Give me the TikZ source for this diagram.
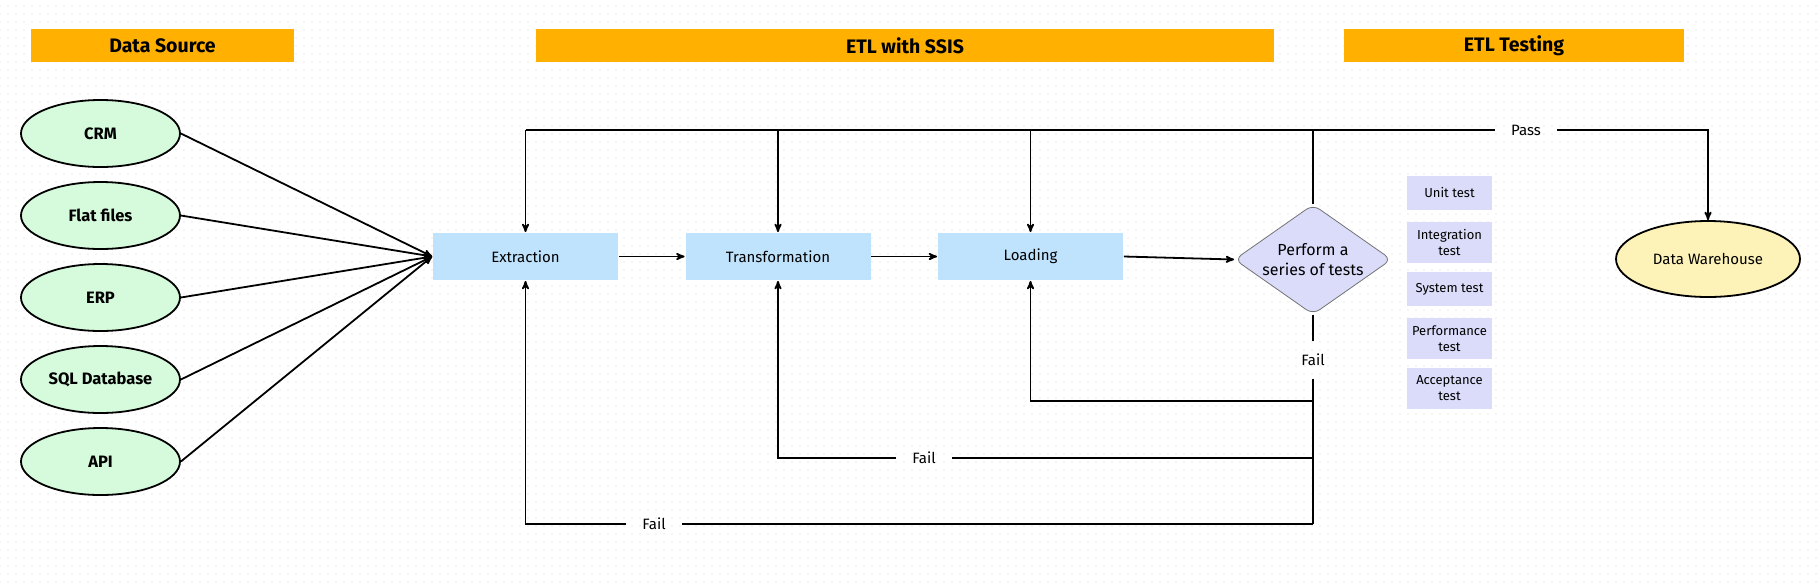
\documentclass[tikz,border=0pt]{standalone}
\usepackage{fontspec}
\setmainfont{Fira Sans}
\usetikzlibrary{arrows,shapes.geometric,patterns}

\definecolor{barorange}{RGB}{255,176,0}
\definecolor{srcgreen}{RGB}{214,250,220}
\definecolor{stageblue}{RGB}{191,227,252}
\definecolor{testlilac}{RGB}{218,220,250}
\definecolor{dwyellow}{RGB}{253,242,184}

% faint dotted canvas
\pgfdeclarepatternformonly{griddots}{\pgfqpoint{-1pt}{-1pt}}{\pgfqpoint{1pt}{1pt}}{\pgfqpoint{8pt}{8pt}}{%
  \pgfpathcircle{\pgfqpoint{0pt}{0pt}}{0.8pt}\pgfusepath{fill}}

\begin{document}
\begin{tikzpicture}[x=1pt,y=-1pt,>=stealth',line width=1.8pt,node distance=82pt,
  every node/.style={font=\fontsize{15}{18}\selectfont},
  header/.style={fill=barorange,minimum height=33pt,font=\fontsize{19.5}{22}\selectfont\bfseries},
  source/.style={ellipse,draw,fill=srcgreen,minimum width=159pt,minimum height=67pt,font=\fontsize{16.5}{19}\selectfont\bfseries},
  stage/.style={fill=stageblue,minimum width=185pt,minimum height=47pt},
  testbox/.style={fill=testlilac,minimum width=85pt,align=center,font=\fontsize{13}{15.5}\selectfont},
  lbl/.style={inner xsep=15pt,inner ysep=12pt,font=\fontsize{15}{18}\selectfont}]
\useasboundingbox (0,0) rectangle (1817,582);
\fill[pattern=griddots,pattern color=black!9] (0,0) rectangle (1817,582);

\node[header,minimum width=263pt] (hsrc)  at (162.5,45.5) {Data Source};
\node[header,minimum width=738pt] (hetl)  at (905,45.5)   {ETL with SSIS};
\node[header,minimum width=340pt] (htest) at (1514,45.5)  {ETL Testing};

\node[source] (crm)  at (100.5,133.5) {CRM};
\node[source] (flat) [below of=crm]   {Flat files};
\node[source] (erp)  [below of=flat]  {ERP};
\node[source] (sql)  [below of=erp]   {SQL Database};
\node[source] (api)  [below of=sql]   {API};

\node[stage] (ext)   at (525.5,256.5)                      {Extraction};
\node[stage] (trans) [right of=ext,node distance=252.5pt]   {Transformation};
\node[stage] (load)  [right of=trans,node distance=252.5pt] {Loading};

\node[diamond,draw=black!55,line width=0.8pt,fill=testlilac,rounded corners=8pt,aspect=1.44,
  minimum width=157pt,minimum height=110pt,inner sep=0pt,align=center,
  font=\fontsize{16}{20}\selectfont] (tests) at (1313,259.5) {Perform a\\series of tests};

\node[testbox,minimum height=34pt] (unit)   at (1449.5,193)   {Unit test};
\node[testbox,minimum height=41pt] (integ)  at (1449.5,242.5) {Integration\\test};
\node[testbox,minimum height=34pt] (sys)    at (1449.5,289)   {System test};
\node[testbox,minimum height=41pt] (perf)   at (1449.5,338.5) {Performance\\test};
\node[testbox,minimum height=41pt] (accept) at (1449.5,388)   {Acceptance\\test};

\node[ellipse,draw,fill=dwyellow,minimum width=184pt,minimum height=76pt] (dw) at (1708,259) {Data Warehouse};

\node[lbl] (pass)      at (1526,130) {Pass};
\node[lbl] (failtest)  at (1313,360) {Fail};
\node[lbl] (failtrans) at (924,458)  {Fail};
\node[lbl] (failext)   at (654,524)  {Fail};

\coordinate (loadback)  at (1313,401);
\coordinate (transback) at (1313,458);
\coordinate (extback)   at (1313,524);

\foreach \src in {crm,flat,erp,sql,api}
  \draw[->] (\src.east) -- (ext.west);
\draw[->] (ext) -- (trans);
\draw[->] (trans) -- (load);
\draw[->] (load.east) -- (tests.west);

% pass
\draw (ext.north |- pass) -- (pass.west);
\draw[->] (pass.east) -| (dw.north);
\draw (tests.north) -- (tests.north |- pass);
\foreach \stg in {ext,trans,load}
  \draw[->] (\stg.north |- pass) -- (\stg.north);

% fail
\draw (tests.south) -- (failtest.north);
\draw (failtest.south) -- (extback);
\draw[->] (loadback) -| (load.south);
\draw (transback) -- (failtrans.east);
\draw[->] (failtrans.west) -| (trans.south);
\draw (extback) -- (failext.east);
\draw[->] (failext.west) -| (ext.south);
\end{tikzpicture}
\end{document}
